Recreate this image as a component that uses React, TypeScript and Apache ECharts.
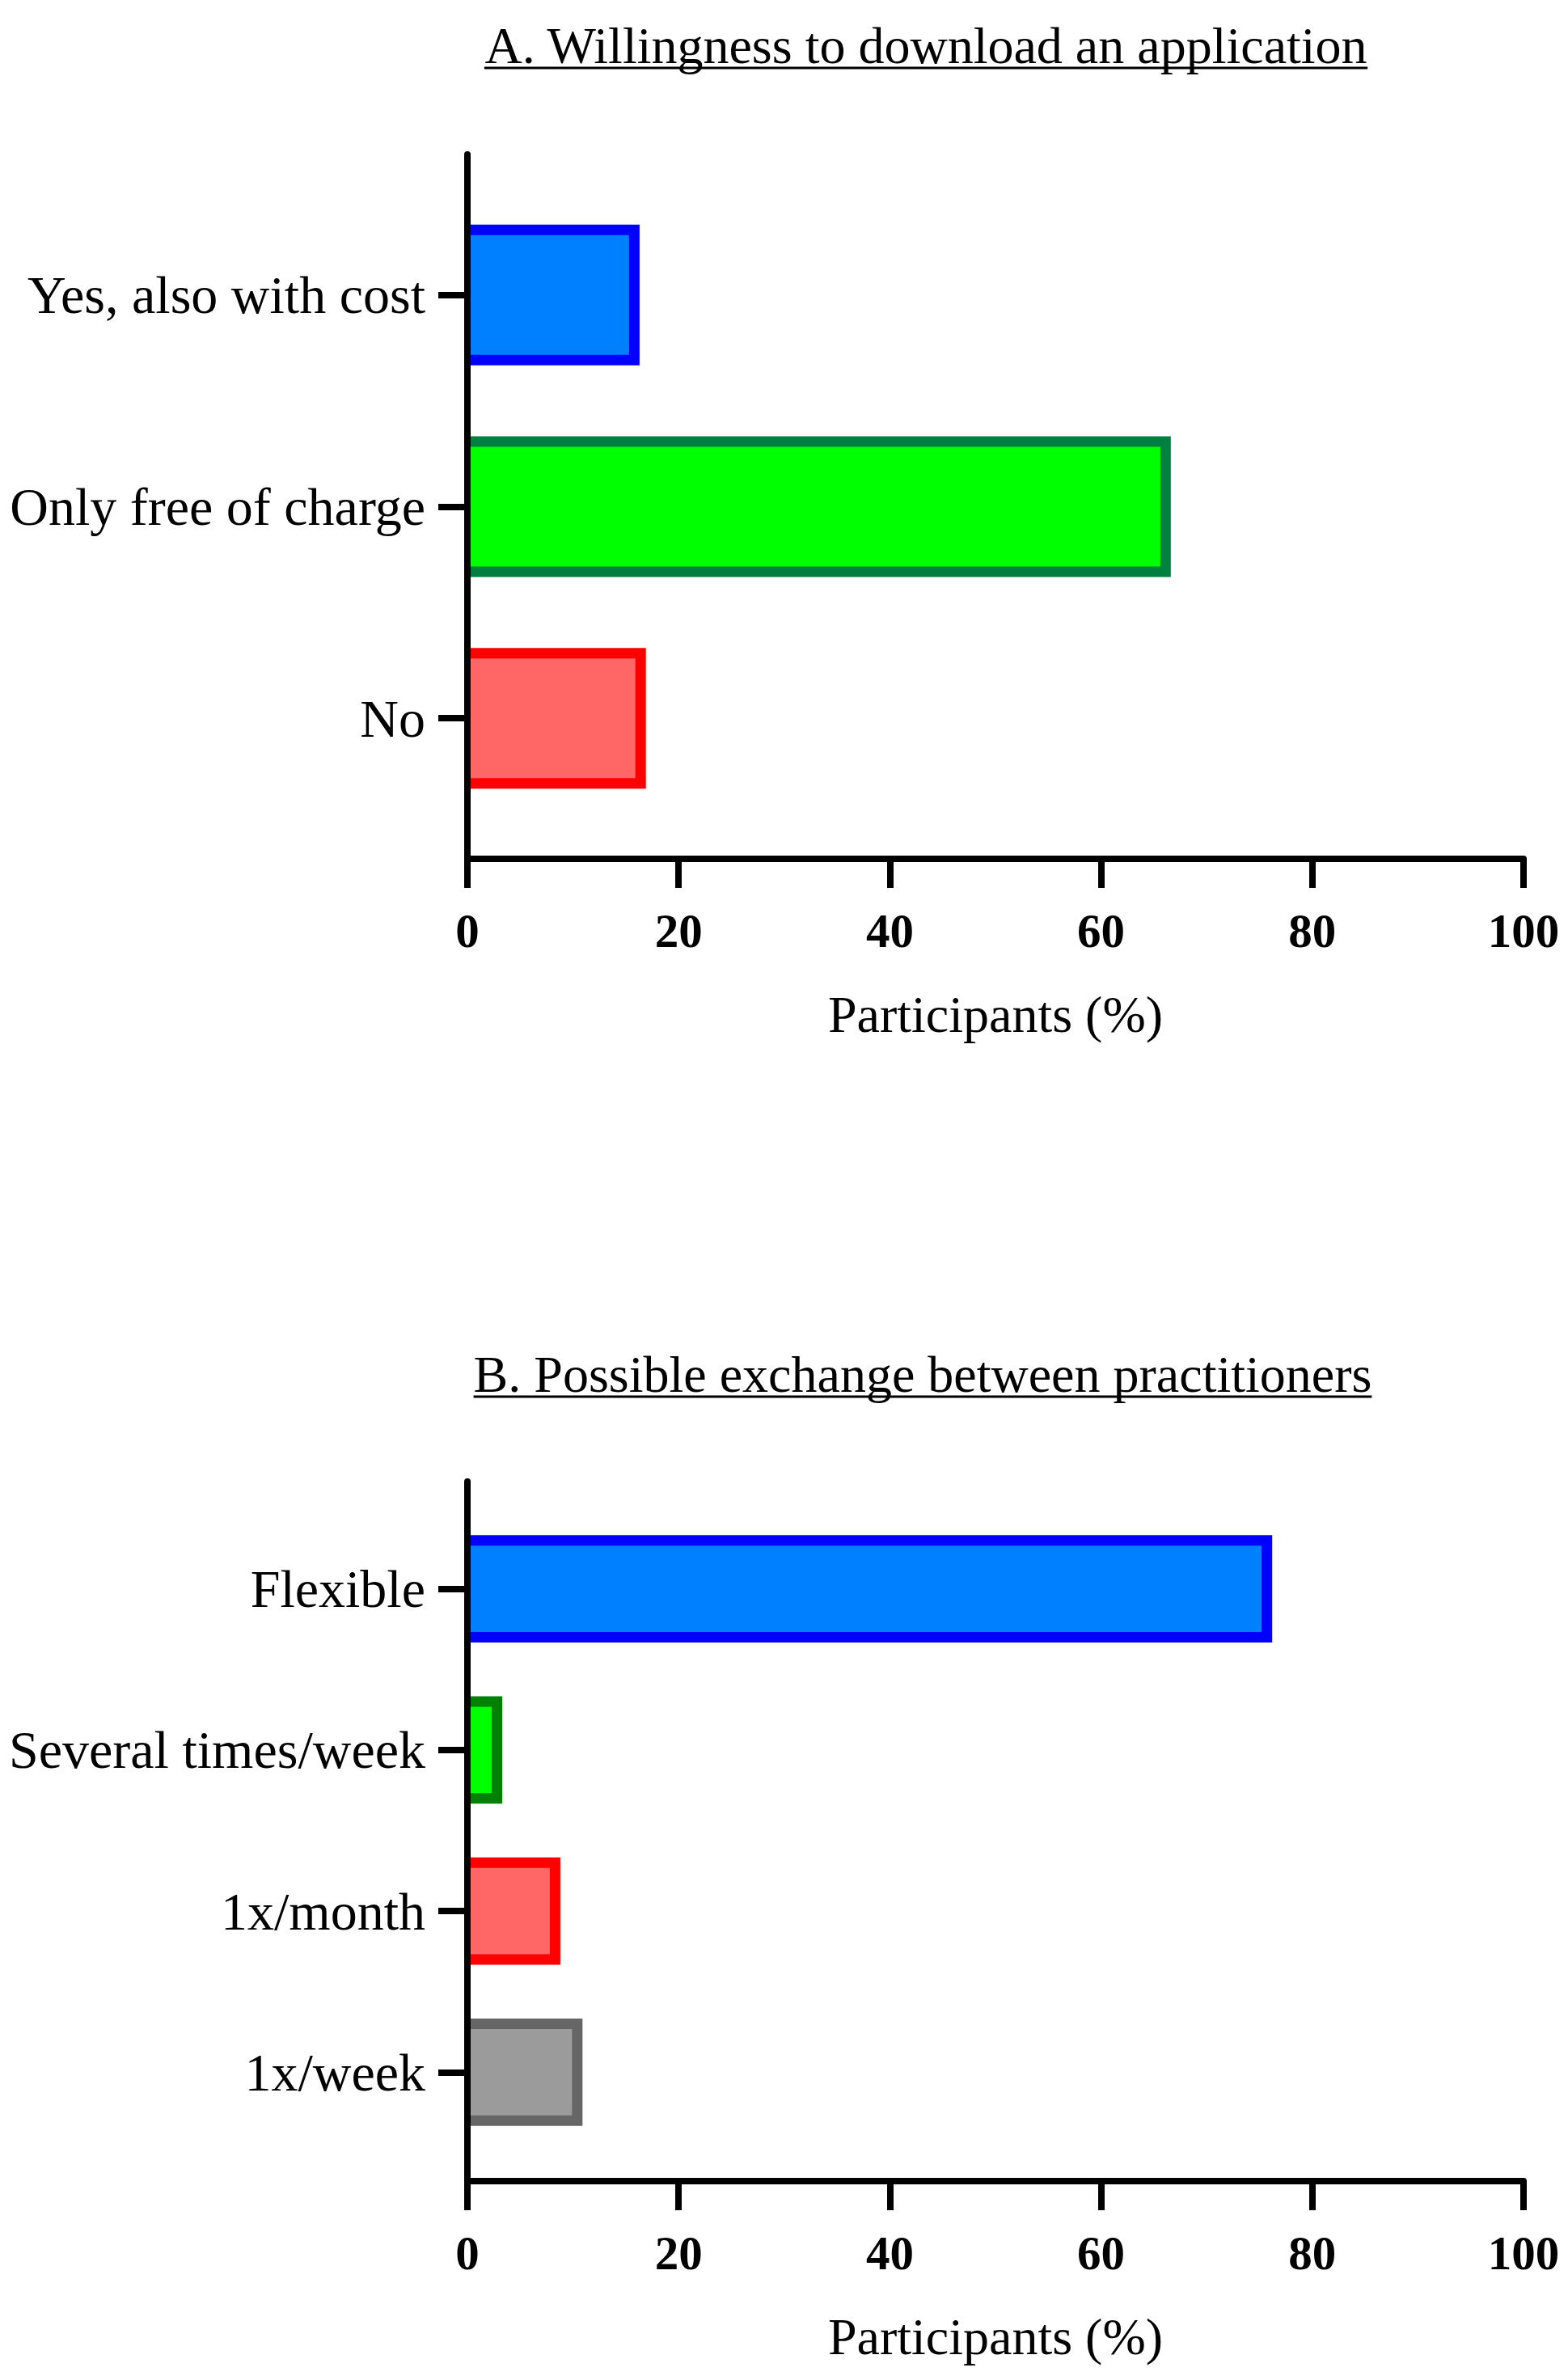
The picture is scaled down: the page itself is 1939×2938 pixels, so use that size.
import React, { useEffect, useRef } from "react";
import * as echarts from "echarts";

// ---- data ----
const categoriesA = ["Yes, also with cost", "Only free of charge", "No"];
const valuesA = [16.3, 66.6, 16.9];
const fillsA = ["#0080FF", "#00FF00", "#FF6666"];
const edgesA = ["#0000FF", "#008040", "#FF0000"];

const categoriesB = ["Flexible", "Several times/week", "1x/month", "1x/week"];
const valuesB = [76.2, 3.3, 8.8, 10.9];
const fillsB = ["#0080FF", "#00FF00", "#FF6666", "#9B9B9B"];
const edgesB = ["#0000FF", "#008000", "#FF0000", "#666666"];

const titleA = "A. Willingness to download an application";
const titleB = "B. Possible exchange between practitioners";
const axisTitle = "Participants (%)";
const axisMin = 0;
const axisMax = 100;
const axisStep = 20;

// ---- layout / style ----
const W = 1939;
const H = 2938;
const LEFT = 578;
const RIGHT = 55;
const FONT = '"Liberation Serif", "Times New Roman", serif';
const LINE_W = 8;
const BORDER = 13;

function measure(text: string, font: string) {
  const ctx = document.createElement("canvas").getContext("2d");
  if (!ctx) return text.length * 26;
  ctx.font = font;
  return ctx.measureText(text).width;
}

function makeRender(fills: string[], edges: string[]) {
  return (params: any, api: any) => {
    const idx = params.dataIndex;
    const v = api.value(0);
    const c = api.value(1);
    const start = api.coord([0, c]);
    const end = api.coord([v, c]);
    const band = api.size([0, 1])[1];
    const h = band * 0.665;
    const x0 = start[0];
    const w = end[0] - start[0];
    const y0 = start[1] - h / 2;
    return {
      type: "group",
      children: [
        { type: "rect", shape: { x: x0, y: y0, width: w, height: h }, style: { fill: edges[idx] } },
        {
          type: "rect",
          shape: { x: x0 + 4, y: y0 + BORDER, width: Math.max(0, w - 4 - BORDER), height: h - 2 * BORDER },
          style: { fill: fills[idx] },
        },
      ],
    };
  };
}

function catAxis(gridIndex: number, cats: string[]) {
  return {
    type: "category",
    gridIndex,
    data: cats,
    inverse: true,
    axisLine: { show: false },
    axisTick: { show: true, alignWithLabel: true, length: 36, lineStyle: { width: LINE_W, color: "#000" } },
    axisLabel: { fontSize: 66, fontFamily: FONT, color: "#000", margin: 52 },
    splitLine: { show: false },
  };
}

function lineYAxis(gridIndex: number) {
  return {
    type: "value",
    gridIndex,
    min: 0,
    max: 1,
    z: 10,
    axisLine: { show: true, lineStyle: { width: LINE_W, color: "#000" } },
    axisTick: { show: false },
    axisLabel: { show: false },
    splitLine: { show: false },
  };
}

function hiddenX(gridIndex: number) {
  return { type: "value", gridIndex, min: axisMin, max: axisMax, show: false, splitLine: { show: false } };
}

function visibleX(gridIndex: number) {
  return {
    type: "value",
    gridIndex,
    min: axisMin,
    max: axisMax,
    interval: axisStep,
    z: 10,
    axisLine: { show: true, lineStyle: { width: LINE_W, color: "#000" } },
    axisTick: { show: true, length: 36, lineStyle: { width: LINE_W, color: "#000" } },
    axisLabel: { fontSize: 59, fontWeight: "bold", fontFamily: FONT, color: "#000", margin: 59 },
    splitLine: { show: false },
    name: axisTitle,
    nameLocation: "middle",
    nameGap: 160,
    nameTextStyle: { fontSize: 64, fontFamily: FONT, color: "#000" },
  };
}

function titleGraphics(text: string, cx: number, cy: number) {
  const font = `64px ${FONT}`;
  const w = measure(text, font);
  const uy = cy + 28;
  return [
    {
      type: "text",
      x: cx,
      y: cy,
      style: { text, font, fill: "#000", align: "center", verticalAlign: "middle" },
    },
    {
      type: "line",
      shape: { x1: cx - w / 2, y1: uy, x2: cx + w / 2, y2: uy },
      style: { stroke: "#000", lineWidth: 3 },
    },
  ];
}

export default function App() {
  const ref = useRef<HTMLDivElement>(null);
  useEffect(() => {
    if (!ref.current) return;
    const chart = echarts.init(ref.current, undefined, { renderer: "svg" });
    chart.setOption({
      animation: false,
      backgroundColor: "#fff",
      grid: [
        { left: LEFT, right: RIGHT, top: 234, height: 785 },
        { left: LEFT, right: RIGHT, top: 191, height: 871 },
        { left: LEFT, right: RIGHT, top: 1865, height: 797 },
        { left: LEFT, right: RIGHT, top: 1832, height: 865 },
      ],
      xAxis: [hiddenX(0), visibleX(1), hiddenX(2), visibleX(3)],
      yAxis: [catAxis(0, categoriesA), lineYAxis(1), catAxis(2, categoriesB), lineYAxis(3)],
      series: [
        {
          type: "custom",
          xAxisIndex: 0,
          yAxisIndex: 0,
          data: valuesA.map((v, i) => [v, i]),
          encode: { x: 0, y: 1 },
          renderItem: makeRender(fillsA, edgesA),
        },
        {
          type: "custom",
          xAxisIndex: 2,
          yAxisIndex: 2,
          data: valuesB.map((v, i) => [v, i]),
          encode: { x: 0, y: 1 },
          renderItem: makeRender(fillsB, edgesB),
        },
      ],
      graphic: [...titleGraphics(titleA, 1145, 56), ...titleGraphics(titleB, 1141, 1699)],
    });
    return () => chart.dispose();
  }, []);
  return <div ref={ref} style={{ position: "absolute", left: 0, top: 0, width: W, height: H }} />;
}
